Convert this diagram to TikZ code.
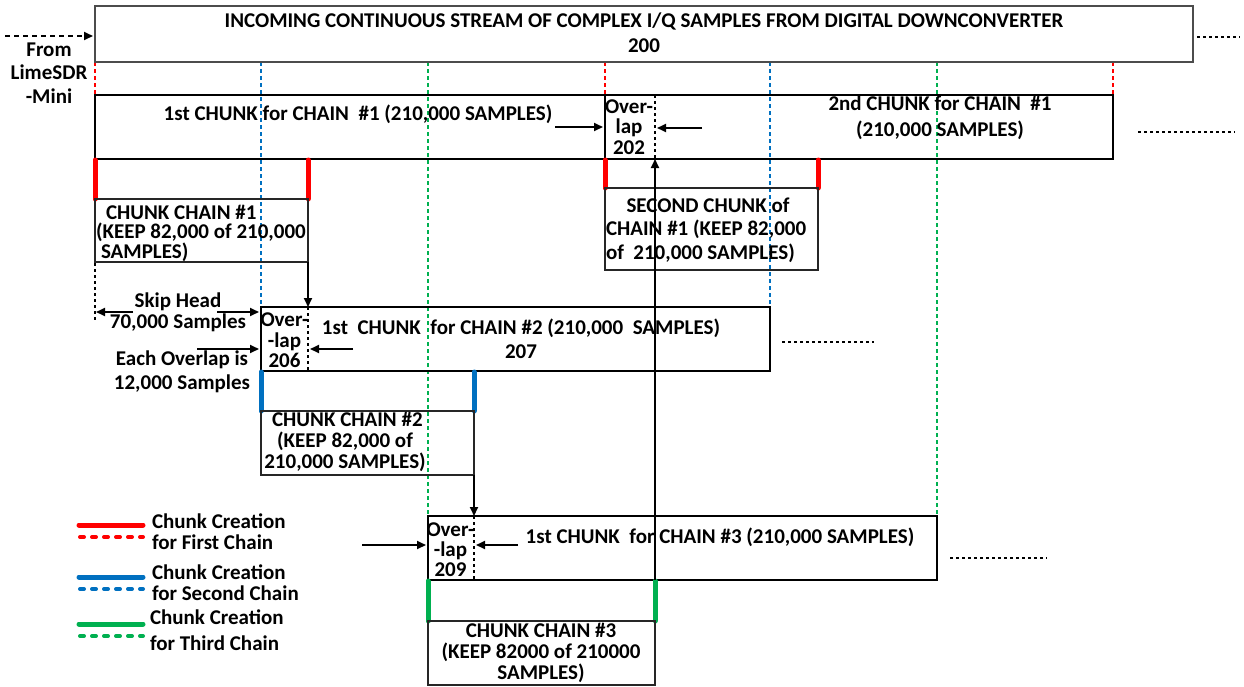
\documentclass[tikz,border=0pt]{standalone}
\usepackage{fontspec}
\setmainfont{Carlito}
\usetikzlibrary{arrows.meta}
\definecolor{cred}{RGB}{255,0,0}
\definecolor{cblue}{RGB}{0,112,192}
\definecolor{cgreen}{RGB}{0,176,80}
\begin{document}
\begin{tikzpicture}[x=1pt,y=-1pt,
 every node/.style={font=\bfseries\fontsize{21}{21}\selectfont, inner sep=0pt, outer sep=0pt},
 thickbox/.style={draw=black, line width=2.6pt, minimum height=64pt, anchor=north west},
 thinbox/.style={draw=black!85, line width=1.3pt, anchor=north west},
 arr/.style={-{Triangle[length=9pt,width=8pt]}, line width=1.8pt},
 cdot/.style={line width=2.6pt, dash pattern=on 4pt off 3pt},
 bdot/.style={line width=2.2pt, dash pattern=on 3pt off 3pt},
 chainmark/.style={line width=5pt, line cap=round},
 legdot/.style={line width=4pt, line cap=round, dash pattern=on 4pt off 8pt},
 txt/.style={align=center},
 lft/.style={anchor=west}
]
\useasboundingbox (0,0) rectangle (1244,686);

% ---------- colored dotted guide lines ----------
\draw[cdot, cred] (95,62) -- (95,95);
\draw[cdot, cred] (605,62) -- (605,95);
\draw[cdot, cred] (1113,62) -- (1113,100);
\draw[cdot, cblue] (261,62) -- (261,307);
\draw[cdot, cblue] (770,62) -- (770,307);
\draw[cdot, cgreen] (428,62) -- (428,516);
\draw[cdot, cgreen] (937,62) -- (937,516);

% ---------- top stream box ----------
\node[thinbox, draw=black!70, minimum width=1098pt, minimum height=56pt] (stream) at (95,6) {};
\node[txt, font=\bfseries\fontsize{21}{25}\selectfont] (streamtxt) at (644,33)
  {INCOMING CONTINUOUS STREAM OF COMPLEX I/Q SAMPLES FROM DIGITAL DOWNCONVERTER\\200};
\node[txt, font=\bfseries\fontsize{21}{23.5}\selectfont] (from) at (49,73) {From\\LimeSDR\\-Mini};
\coordinate (fromtail) at (5,36);
\coordinate (fromhead) at (93,36);
\draw[arr, line width=2pt, dash pattern=on 5pt off 4pt] (fromtail) -- (fromhead);
\coordinate (sdotA) at (1197,37); \coordinate (sdotB) at (1240,37);
\draw[bdot] (sdotA) -- (sdotB);

% ---------- chunk 1 of chain 1 ----------
\node[thickbox, minimum width=1018pt] (c1) at (95,95) {};
\draw[line width=2.6pt] (605,95) -- (605,159);
\draw[bdot] (655,95) -- (655,159);
\node (c1txt) at (358,114) {1st CHUNK for CHAIN\ \ \#1 (210,000 SAMPLES)};
\node[txt, font=\bfseries\fontsize{21}{20.5}\selectfont] (ov202) at (629,127) {Over-\\lap\\202};
\node[txt, font=\bfseries\fontsize{21}{26}\selectfont] (c1b) at (940,118) {2nd CHUNK for CHAIN\ \ \#1\\(210,000 SAMPLES)};
\coordinate (a202lt) at (555,127); \coordinate (a202lh) at (603,127);
\coordinate (a202rt) at (702,128); \coordinate (a202rh) at (657,128);
\draw[arr] (a202lt) -- (a202lh);
\draw[arr] (a202rt) -- (a202rh);
\coordinate (c1dA) at (1138,132); \coordinate (c1dB) at (1235,132);
\draw[bdot] (c1dA) -- (c1dB);

% red chunk markers
\draw[chainmark, cred] (95,160) -- (95,199);
\draw[chainmark, cred] (308,160) -- (308,199);
\draw[chainmark, cred] (605,160) -- (605,188);
\draw[chainmark, cred] (818,160) -- (818,188);

% chunk chain #1 box
\node[thinbox, minimum width=213pt, minimum height=63pt] (k1) at (95,199) {};
\node[lft] (k1a) at (106,212) {CHUNK CHAIN \#1};
\node[lft] (k1b) at (96,232) {(KEEP 82,000 of 210,000};
\node[lft] (k1c) at (101,252) {SAMPLES)};

% second chunk of chain #1 box
\node[thinbox, minimum width=213pt, minimum height=82pt] (k1s) at (605,188) {};
\node (k1sa) at (708,205) {SECOND CHUNK of};
\node[lft] (k1sb) at (606,229) {CHAIN \#1 (KEEP 82,000};
\node[lft] (k1sc) at (606,253) {of\ \ 210,000 SAMPLES)};

% skip head
\draw[bdot] (95,263) -- (95,322);
\coordinate (k1br) at (308,262);
\node[txt] (skip) at (178,312.5) {Skip Head\\70,000 Samples};
\coordinate (skLt) at (133,312); \coordinate (skLh) at (96,312);
\coordinate (skRt) at (217,312); \coordinate (skRh) at (259,312);
\draw[arr] (skLt) -- (skLh);
\draw[arr] (skRt) -- (skRh);
\node[txt, font=\bfseries\fontsize{21}{24}\selectfont] (each) at (182,372) {Each Overlap is\\12,000 Samples};
\coordinate (eat) at (197,349); \coordinate (eah) at (259,349);
\draw[arr] (eat) -- (eah);

% ---------- chain 2 ----------
\node[thickbox, minimum width=509pt] (c2) at (261,307) {};
\draw[arr] (k1br) -- (c2.north west -| k1br);
\draw[bdot] (308,307) -- (308,371);
\node[txt, font=\bfseries\fontsize{21}{20.5}\selectfont] (ov206) at (284.5,340.5) {Over-\\-lap\\206};
\node[txt, font=\bfseries\fontsize{21}{24}\selectfont] (c2txt) at (521,339) {1st\ \ CHUNK\ \ for CHAIN \#2 (210,000\ \ SAMPLES)\\207};
\coordinate (a206t) at (353,349); \coordinate (a206h) at (310,349);
\draw[arr] (a206t) -- (a206h);
\coordinate (c2dA) at (782,342); \coordinate (c2dB) at (874,342);
\draw[bdot] (c2dA) -- (c2dB);

\draw[chainmark, cblue] (261,372) -- (261,411);
\draw[chainmark, cblue] (474,372) -- (474,411);

\node[thinbox, minimum width=213pt, minimum height=64pt] (k2) at (261,411) {};
\node[txt, font=\bfseries\fontsize{21}{21}\selectfont] (k2txt) at (345,442) {\ CHUNK CHAIN \#2\\(KEEP 82,000 of\\210,000 SAMPLES)};

% ---------- chain 3 ----------
\coordinate (k2br) at (474,475);
\node[thickbox, minimum width=509pt] (c3) at (428,516) {};
\draw[arr] (k2br) -- (c3.north west -| k2br);
\draw[bdot] (474,516) -- (474,580);
\node[txt, font=\bfseries\fontsize{21}{20}\selectfont] (ov209) at (450.5,550) {Over-\\-lap\\209};
\node (c3txt) at (720,537) {1st CHUNK\ \ for CHAIN \#3 (210,000 SAMPLES)};
\coordinate (a209lt) at (362,545); \coordinate (a209lh) at (426,545);
\coordinate (a209rt) at (518,545); \coordinate (a209rh) at (476,545);
\draw[arr] (a209lt) -- (a209lh);
\draw[arr] (a209rt) -- (a209rh);
\coordinate (c3dA) at (950,558); \coordinate (c3dB) at (1047,558);
\draw[bdot] (c3dA) -- (c3dB);

\draw[chainmark, cgreen] (428,581) -- (428,621);
\draw[chainmark, cgreen] (655,581) -- (655,621);

\node[thinbox, minimum width=227pt, minimum height=64pt] (k3) at (428,621) {};
\node[txt, font=\bfseries\fontsize{21}{21}\selectfont] (k3txt) at (541,653) {CHUNK CHAIN \#3\\(KEEP 82000 of 210000\\SAMPLES)};

% long feedback arrow
\coordinate (fbt) at (655,580);
\draw[arr] (fbt) -- (fbt |- c1.south);

% ---------- legend ----------
\draw[chainmark, cred] (79,525) -- (143,525);
\draw[legdot, cred] (80,537) -- (143,537);
\node[txt, anchor=west, align=left] (lg1) at (152,531.5) {Chunk Creation\\for First Chain};
\draw[chainmark, cblue] (79,577) -- (143,577);
\draw[legdot, cblue] (80,589) -- (143,589);
\node[txt, anchor=west, align=left] (lg2) at (152,582.5) {Chunk Creation\\for Second Chain};
\draw[chainmark, cgreen] (79,624) -- (143,624);
\draw[legdot, cgreen] (80,636) -- (143,636);
\node[txt, anchor=west, align=left, font=\bfseries\fontsize{21}{26}\selectfont] (lg3) at (150,630) {Chunk Creation\\for Third Chain};
\end{tikzpicture}
\end{document}
